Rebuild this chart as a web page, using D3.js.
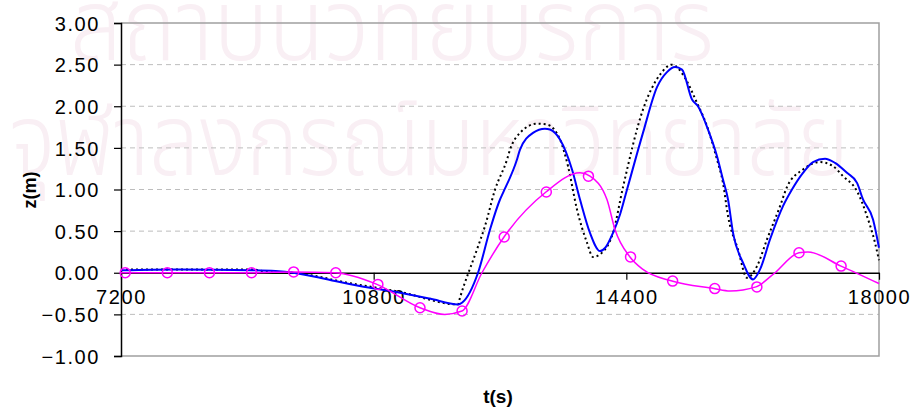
<!DOCTYPE html>
<html>
<meta charset="utf-8">
<script src="https://d3js.org/d3.v7.js"></script>
<style>
  body { margin: 0; background: #fff; }
  .tick-label { font-family: "Liberation Sans", Arial, sans-serif; font-size: 20px; letter-spacing: 1.6px; fill: #000; }
  .title { font-family: "Liberation Sans", Arial, sans-serif; font-weight: bold; fill: #000; }
  .wm { font-family: "Noto Sans Thai", "Noto Sans", "DejaVu Sans", sans-serif; font-weight: 300; fill: #f9eff4; }
</style>
<body>
<div id="my_dataviz"></div>
<script type="text/javascript">
  // tick labels
  var xTicks = [7200, 10800, 14400, 18000]
  var yTicks = [-1.0, -0.5, 0.0, 0.5, 1.0, 1.5, 2.0, 2.5, 3.0]

  // blue solid series (t, z)
  var blueT = [7200, 8000, 9067, 9400, 9651, 10035, 10249, 10600, 11175, 11600, 12002, 12058, 12287, 12458, 12600, 12643, 12842, 12885, 13070, 13241, 13312, 13455, 13626, 13740, 13882, 14025, 14100, 14210, 14310, 14410, 14637, 14837, 14979, 15094, 15193, 15336, 15421, 15564, 15692, 15777, 15849, 15920, 16062, 16205, 16305, 16447, 16632, 16760, 16917, 17060, 17231, 17373, 17544, 17687, 17772, 17915, 18000]
  var blueZ = [0.03, 0.04, 0.03, 0.02, 0.0, -0.06, -0.1, -0.16, -0.24, -0.31, -0.38, -0.36, 0.0, 0.52, 0.88, 0.96, 1.36, 1.48, 1.68, 1.73, 1.72, 1.6, 1.24, 0.88, 0.48, 0.26, 0.3, 0.48, 0.7, 1.0, 1.68, 2.23, 2.41, 2.47, 2.44, 2.08, 2.0, 1.72, 1.4, 1.12, 0.88, 0.48, 0.12, -0.08, 0.04, 0.4, 0.8, 1.0, 1.2, 1.33, 1.37, 1.32, 1.2, 1.08, 0.88, 0.64, 0.3]

  // black dotted series
  var blackT = [7200, 9067, 9223, 9651, 10035, 10249, 11175, 12002, 12030, 12272, 12386, 12530, 12700, 12743, 12885, 13127, 13270, 13455, 13569, 13697, 13840, 13925, 14096, 14210, 14353, 14637, 14880, 15051, 15236, 15407, 15550, 15692, 15777, 15849, 15991, 16119, 16262, 16404, 16590, 16689, 16917, 17159, 17345, 17487, 17687, 17829, 17943, 18000]
  var blackZ = [0.04, 0.04, 0.02, 0.0, -0.05, -0.09, -0.23, -0.38, -0.3, 0.28, 0.56, 1.0, 1.36, 1.48, 1.68, 1.79, 1.78, 1.6, 1.28, 0.76, 0.36, 0.19, 0.28, 0.48, 1.03, 1.96, 2.38, 2.5, 2.34, 2.04, 1.76, 1.36, 1.08, 0.68, 0.28, -0.06, 0.08, 0.4, 0.8, 1.03, 1.24, 1.33, 1.28, 1.16, 0.98, 0.68, 0.36, 0.15]

  // magenta series (line) and its circle markers
  var pinkT = [7200, 7860, 8470, 9070, 9650, 10250, 10847, 11460, 11816, 12058, 12343, 12657, 13255, 13740, 13882, 14124, 14238, 14452, 14637, 15051, 15649, 15877, 16247, 16490, 16860, 16988, 17459, 18000]
  var pinkZ = [0.0, 0.0, 0.0, 0.0, 0.01, 0.0, -0.14, -0.42, -0.5, -0.46, 0.0, 0.43, 0.97, 1.2, 1.16, 0.88, 0.52, 0.19, 0.04, -0.1, -0.19, -0.22, -0.17, -0.02, 0.24, 0.25, 0.08, -0.13]
  var markT = [7260, 7860, 8460, 9060, 9660, 10260, 10860, 11460, 12060, 12660, 13260, 13860, 14460, 15060, 15660, 16260, 16860, 17460]
  var markZ = [0.0, 0.0, 0.0, 0.0, 0.01, 0.0, -0.14, -0.42, -0.46, 0.43, 0.97, 1.16, 0.19, -0.1, -0.19, -0.17, 0.24, 0.08]

  var W = 918, H = 411
  var margin = {top: 23, right: 39, bottom: 55, left: 121}
  var width = W - margin.left - margin.right
  var height = H - margin.top - margin.bottom

  var svg = d3.select("#my_dataviz").append("svg")
    .attr("width", W).attr("height", H)

  // watermark
  svg.append("text").attr("class", "wm")
    .attr("x", 70).attr("y", 60)
    .attr("textLength", 644).attr("lengthAdjust", "spacingAndGlyphs")
    .style("font-size", "100px").text("สถาบันวิทยบริการ")
  svg.append("text").attr("class", "wm")
    .attr("x", 9).attr("y", 175)
    .attr("textLength", 840).attr("lengthAdjust", "spacingAndGlyphs")
    .style("font-size", "100px").text("จุฬาลงกรณ์มหาวิทยาลัย")

  var g = svg.append("g")
    .attr("transform", "translate(" + margin.left + "," + margin.top + ")")

  var x = d3.scaleLinear().domain([7200, 18000]).range([0, width])
  var y = d3.scaleLinear().domain([-1, 3]).range([height, 0])

  // dashed grid
  g.selectAll(".grid").data(yTicks.filter(d => d !== 0 && d !== 3 && d !== -1))
    .enter().append("line")
    .attr("x1", 0).attr("x2", width)
    .attr("y1", d => y(d)).attr("y2", d => y(d))
    .style("stroke", "#bdbdbd").style("stroke-dasharray", "5,4").style("stroke-width", 1)

  // plot frame (grey top/right/bottom)
  g.append("path")
    .attr("d", "M0," + y(3) + "H" + x(18000) + "V" + y(-1) + "H0")
    .style("fill", "none").style("stroke", "#a0a0a0").style("stroke-width", 1.5)

  // y axis
  var yAxis = g.append("g")
    .call(d3.axisLeft(y).tickValues(yTicks).tickSize(7).tickFormat(d3.format(".2f")))
  yAxis.select(".domain").style("stroke", "#000").style("stroke-width", 1.5)
  yAxis.selectAll(".tick line").style("stroke", "#000").style("stroke-width", 1.2)
  yAxis.selectAll("text").attr("class", "tick-label").attr("x", -21).attr("dy", "0.36em")

  // x axis on zero line
  var xAxis = g.append("g")
    .attr("transform", "translate(0," + y(0) + ")")
    .call(d3.axisBottom(x).tickValues(xTicks).tickSize(7).tickSizeOuter(0).tickFormat(d3.format("d")))
  xAxis.select(".domain").style("stroke", "#000").style("stroke-width", 1.5)
  xAxis.selectAll(".tick line").style("stroke", "#000").style("stroke-width", 1.2)
  xAxis.selectAll("text").attr("class", "tick-label").attr("y", 17).attr("dy", "0.71em")

  function series(T, Z) { return T.map((t, i) => [t, Z[i]]) }
  var line = d3.line().x(d => x(d[0])).y(d => y(d[1])).curve(d3.curveMonotoneX)

  g.append("path").datum(series(blackT, blackZ))
    .attr("d", line)
    .style("fill", "none").style("stroke", "#000").style("stroke-width", 2)
    .style("stroke-dasharray", "2,3")

  g.append("path").datum(series(blueT, blueZ))
    .attr("d", line)
    .style("fill", "none").style("stroke", "#0000ff").style("stroke-width", 2)

  g.append("path").datum(series(pinkT, pinkZ))
    .attr("d", line)
    .style("fill", "none").style("stroke", "#ff00ff").style("stroke-width", 1.5)

  g.selectAll(".mk").data(series(markT, markZ)).enter().append("circle")
    .attr("cx", d => x(d[0])).attr("cy", d => y(d[1])).attr("r", 5)
    .style("fill", "none").style("stroke", "#ff00ff").style("stroke-width", 1.5)

  // axis titles
  svg.append("text").attr("class", "title")
    .attr("transform", "translate(36,190) rotate(-90)").attr("text-anchor", "middle")
    .style("font-size", "18px").text("z(m)")
  svg.append("text").attr("class", "title")
    .attr("x", 498).attr("y", 403).attr("text-anchor", "middle")
    .style("font-size", "19px").text("t(s)")
</script>
</body>
</html>
